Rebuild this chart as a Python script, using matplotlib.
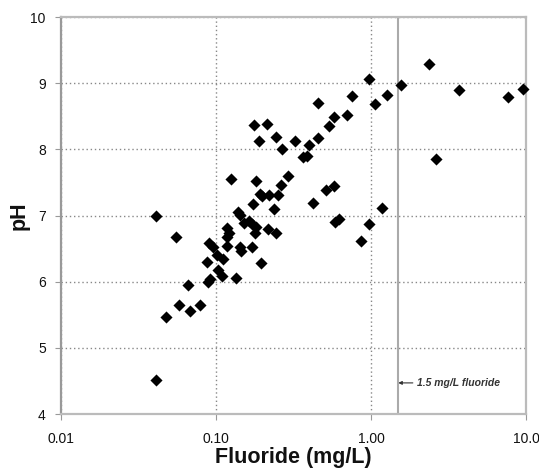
import matplotlib
matplotlib.use("Agg")
import matplotlib.pyplot as plt
from matplotlib.ticker import FixedLocator, NullLocator

fluoride = [0.041, 0.055, 0.0657, 0.058, 0.0476, 0.0683, 0.079, 0.041, 0.090, 0.088,
            0.089, 0.095, 0.101, 0.111, 0.103, 0.109, 0.0915, 0.134, 0.118, 0.121,
            0.118, 0.118, 0.139, 0.143, 0.152, 0.164, 0.170, 0.181, 0.179, 0.170,
            0.143, 0.146, 0.194, 0.218, 0.245, 0.172, 0.237, 0.177, 0.213, 0.190,
            0.244, 0.267, 0.125, 0.180, 0.290, 0.262, 0.192, 0.197, 0.221, 0.250,
            0.975, 0.750, 1.27, 0.453, 1.056, 0.577, 0.697, 0.538, 0.323, 0.457,
            0.400, 0.366, 0.385, 0.424, 0.510, 0.577, 0.620, 0.586, 1.178, 0.970,
            0.860, 2.37, 1.55, 3.68, 7.69, 9.52, 2.61]
ph = [7.00, 6.67, 5.95, 5.65, 5.47, 5.55, 5.64, 4.52, 6.58, 6.29,
      6.00, 6.53, 6.40, 6.34, 6.17, 6.09, 6.04, 6.05, 6.81, 6.73,
      6.68, 6.54, 7.06, 7.01, 6.89, 6.91, 6.87, 6.83, 6.73, 6.53,
      6.53, 6.47, 6.28, 6.79, 6.73, 7.17, 7.10, 8.37, 8.39, 8.13,
      8.19, 8.00, 7.55, 7.52, 7.59, 7.46, 7.33, 7.29, 7.31, 7.31,
      9.07, 8.81, 8.82, 8.70, 8.68, 8.49, 8.52, 8.36, 8.13, 8.17,
      8.07, 7.89, 7.90, 7.19, 7.38, 7.45, 6.95, 6.90, 7.12, 6.87,
      6.61, 9.29, 8.97, 8.89, 8.79, 8.91, 7.85]

x_ticks = [0.01, 0.1, 1.0, 10.0]
x_tick_labels = ["0.01", "0.10", "1.00", "10.0"]
y_ticks = [4, 5, 6, 7, 8, 9, 10]
threshold = 1.5
threshold_label = "1.5 mg/L fluoride"

plt.rcParams['font.family'] = ['Liberation Sans', 'DejaVu Sans']

fig = plt.figure(figsize=(5.39, 4.74), dpi=100)
ax = fig.add_axes([61/539, (474-414)/474, 465/539, 397/474])

ax.set_xscale('log')
ax.set_xlim(0.01, 10)
ax.set_ylim(4, 10)

ax.xaxis.set_major_locator(FixedLocator(x_ticks))
ax.xaxis.set_minor_locator(NullLocator())
ax.set_xticklabels(x_tick_labels)
ax.set_yticks(y_ticks)

ax.grid(True, which='major', linestyle=(0, (1, 2)), color='#888888', linewidth=1)
ax.set_axisbelow(True)

for side in ['top', 'right', 'bottom']:
    ax.spines[side].set_color('#bbbbbb')
    ax.spines[side].set_linewidth(1.6)
ax.spines['left'].set_color('#999999')
ax.spines['left'].set_linewidth(1.6)

ax.tick_params(axis='both', direction='out', length=4, color='#999999',
               labelsize=10, labelcolor='#111111')
ax.tick_params(axis='x', pad=9)
ax.tick_params(axis='y', pad=7)

ax.axvline(threshold, color='#aaaaaa', linewidth=1.5, zorder=2)

ax.scatter(fluoride, ph, marker='D', s=38, color='black', zorder=3, linewidths=0,
           clip_on=False)

ax.annotate(threshold_label, xy=(threshold, 4.47), xytext=(1.98, 4.47),
            fontsize=7.5, fontweight='bold', fontstyle='italic', color='#333333',
            va='center', ha='left',
            arrowprops=dict(arrowstyle='-|>', color='#333333', lw=0.8,
                            mutation_scale=5, shrinkA=1, shrinkB=0))

ax.set_xlabel('Fluoride (mg/L)', fontsize=15.5, fontweight='bold', color='#111111')
ax.set_ylabel('pH', fontsize=15.5, fontweight='bold', color='#111111')
ax.xaxis.set_label_coords(0.5, -0.083)
ax.yaxis.set_label_coords(-0.067, 0.5)

fig.savefig('out.png', dpi=100)
